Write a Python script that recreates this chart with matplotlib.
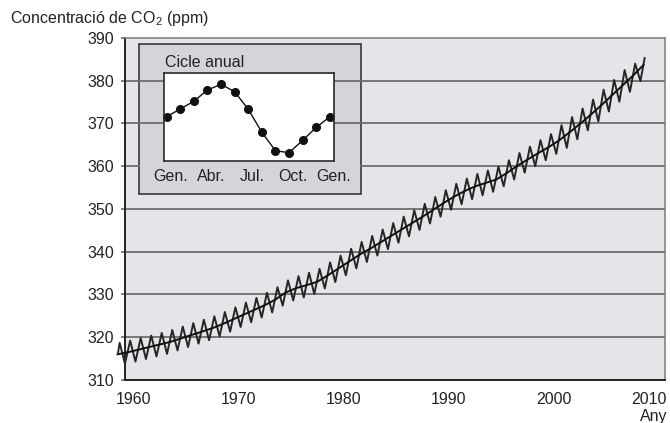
import numpy as np
import matplotlib
matplotlib.use('Agg')
import matplotlib.pyplot as plt
from matplotlib.patches import Rectangle
from matplotlib.transforms import ScaledTranslation

plt.rcParams['font.family'] = ['Liberation Sans', 'DejaVu Sans']
plt.rcParams['mathtext.default'] = 'regular'

# tendencia (valor a mig any)
trend_years = np.arange(1958, 2009) + 0.5
trend_ppm = [316.0, 316.5, 317.1, 317.7, 318.3, 318.9, 319.7, 320.5, 321.3, 322.1,
             323.1, 324.2, 325.3, 326.4, 327.5, 328.8, 330.5, 331.5, 332.2, 333.0,
             334.5, 336.1, 337.7, 339.3, 340.7, 342.2, 343.7, 345.2, 346.7, 348.2,
             349.8, 351.4, 352.9, 354.2, 355.3, 356.1, 356.9, 358.4, 360.1, 361.6,
             363.1, 364.5, 366.1, 368.0, 370.0, 372.1, 374.3, 376.6, 378.9, 381.2,
             383.7]

# maxims i minims del cicle estacional, un per any
cycle_years = np.arange(1958, 2008)
peak_ppm = [318.7, 319.2, 319.8, 320.4, 321.0, 321.7, 322.5, 323.3, 324.1, 324.9,
            325.9, 327.0, 328.1, 329.2, 330.4, 331.7, 333.3, 334.3, 335.1, 336.0,
            337.5, 339.1, 340.7, 342.3, 343.7, 345.2, 346.7, 348.2, 349.7, 351.2,
            352.8, 354.4, 355.9, 357.1, 358.2, 359.0, 359.9, 361.4, 363.1, 364.6,
            366.1, 367.5, 369.6, 371.5, 373.5, 375.6, 377.9, 380.2, 382.5, 384.0]
trough_ppm = [313.8, 314.3, 314.9, 315.5, 316.1, 316.9, 317.7, 318.5, 319.3, 320.2,
              321.3, 322.4, 323.5, 324.6, 325.8, 327.4, 328.6, 329.3, 330.1, 331.4,
              332.9, 334.5, 336.1, 337.6, 339.1, 340.6, 342.1, 343.6, 345.1, 346.6,
              348.2, 349.8, 351.1, 352.3, 353.2, 354.0, 355.3, 356.9, 358.5, 360.0,
              361.4, 362.9, 364.3, 366.3, 368.4, 370.5, 372.8, 375.1, 377.4, 379.9]
first_point = (1958.55, 316.4)
last_point = (2008.6, 385.3)

# cicle anual (inset)
months = np.arange(13)
season_ppm = [0.0, 0.77, 1.54, 2.67, 3.24, 2.5, 0.74, -1.56, -3.4, -3.6, -2.36, -1.06, 0.0]
month_ticks = [0, 3, 6, 9, 12]
month_labels = ['Gen.', 'Abr.', 'Jul.', 'Oct.', 'Gen.']

year_ticks = [1960, 1970, 1980, 1990, 2000, 2010]
ppm_ticks = [310, 320, 330, 340, 350, 360, 370, 380, 390]

zx = [first_point[0]]
zy = [first_point[1]]
for yr, p, t in zip(cycle_years, peak_ppm, trough_ppm):
    zx += [yr + 0.7, yr + 1.2]
    zy += [p, t]
zx.append(last_point[0])
zy.append(last_point[1])

fig = plt.figure(figsize=(6.7, 4.23), dpi=100)
ax = fig.add_axes([0.1866, 0.1017, 0.806, 0.8085])
ax.set_facecolor('#e6e4e8')
ax.set_xlim(1959.21, 2010.54)
ax.set_ylim(310, 390)

for v in ppm_ticks[1:-1]:
    ax.axhline(v, color='#6e6e6e', lw=1.3, zorder=2)

ax.plot(zx, zy, color='#262626', lw=1.4, zorder=4, clip_on=False)
ax.plot(trend_years, trend_ppm, color='#111111', lw=1.4, zorder=5, clip_on=False)

ax.set_xticks(year_ticks)
ax.set_yticks(ppm_ticks)
ax.tick_params(axis='x', length=0, pad=9, labelsize=11.5, labelcolor='#222222')
ax.tick_params(axis='y', length=3, width=1.2, color='#6e6e6e', pad=5,
               labelsize=11.5, labelcolor='#222222')
lab = ax.get_xticklabels()[-1]
lab.set_transform(lab.get_transform() + ScaledTranslation(-0.1, 0, fig.dpi_scale_trans))

for s in ['left', 'bottom']:
    ax.spines[s].set_color('#222222')
    ax.spines[s].set_linewidth(1.4)
for s in ['top', 'right']:
    ax.spines[s].set_color('#7a7a7a')
    ax.spines[s].set_linewidth(1.1)

# requadre gris de l'inset
ax.add_patch(Rectangle((0.2079, 0.5414), 0.3309, 0.3539, transform=fig.transFigure,
                       facecolor='#d6d4d8', edgecolor='#2a2a2a', lw=1.1, zorder=1))
ax.add_patch(Rectangle((0.2094, 0.5437), 0.328, 0.0733, transform=fig.transFigure,
                       facecolor='#d6d4d8', edgecolor='none', zorder=2.5))

ins = fig.add_axes([0.2452, 0.6201, 0.2533, 0.2066])
ins.set_facecolor('white')
ins.plot(months, season_ppm, color='#111111', lw=1.0, marker='o', ms=5.5,
         markerfacecolor='#111111', clip_on=False)
ins.set_xlim(-0.17, 11.95)
ins.set_ylim(-4.4, 4.34)
ins.set_yticks([])
ins.set_xticks(np.array(month_ticks) + 0.3)
ins.set_xticklabels(month_labels)
ins.tick_params(axis='x', length=0, pad=6, labelsize=11.5, labelcolor='#222222')
for s in ins.spines.values():
    s.set_color('#2a2a2a')
    s.set_linewidth(1.2)

fig.text(165 / 670, 1 - 62.7 / 423, 'Cicle anual', fontsize=11.5, color='#222222',
         ha='left', va='center')
fig.text(10 / 670, 1 - 18 / 423, 'Concentració de CO$_2$ (ppm)', fontsize=11.5,
         color='#222222', ha='left', va='center')
fig.text(667 / 670, 1 - 416 / 423, 'Any', fontsize=11.5, color='#222222',
         ha='right', va='center')

fig.savefig('out.png', dpi=100)
